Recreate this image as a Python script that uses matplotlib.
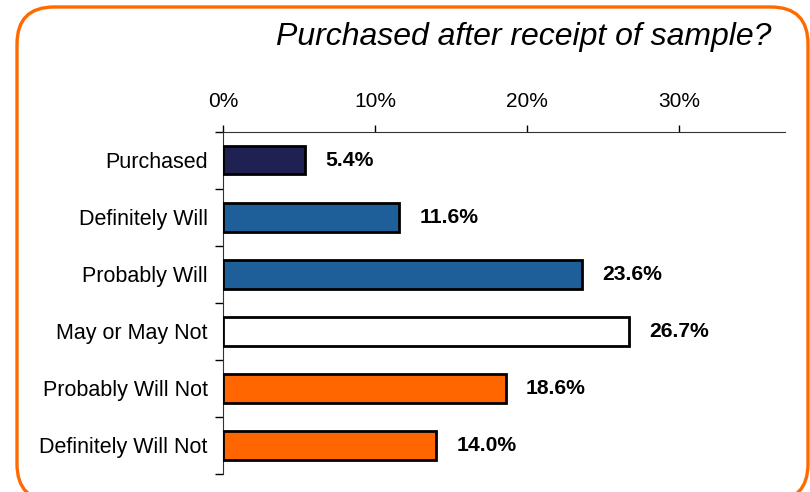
import matplotlib.pyplot as plt
from matplotlib.patches import FancyBboxPatch

plt.rcParams['font.family'] = ['Liberation Sans', 'DejaVu Sans']

categories = ["Purchased", "Definitely Will", "Probably Will",
              "May or May Not", "Probably Will Not", "Definitely Will Not"]
values = [5.4, 11.6, 23.6, 26.7, 18.6, 14.0]
bar_colors = ["#1F2152", "#1F5F99", "#1F5F99", "#FFFFFF", "#FF6600", "#FF6600"]
tick_vals = [0, 10, 20, 30]
tick_labels = ["0%", "10%", "20%", "30%"]
title = "Purchased after receipt of sample?"

fig = plt.figure(figsize=(8.1, 4.92), dpi=100)

# orange rounded frame, in inches; bottom edge runs off the figure
frame = FancyBboxPatch((0.17, -0.09), 7.91, 4.94,
                       boxstyle="round,pad=0,rounding_size=0.37",
                       transform=fig.dpi_scale_trans, facecolor="none",
                       edgecolor="#FF6A00", linewidth=2.4, zorder=-1)
fig.patches.append(frame)

ax = fig.add_axes([0.2753, 0.0366, 0.694, 0.6957])
ax.set_facecolor("none")

n = len(categories)
ypos = list(range(n))
ax.barh(ypos, values, height=0.5, color=bar_colors, edgecolor="black",
        linewidth=2.0, zorder=3)

for y, v in zip(ypos, values):
    ax.text(v + 1.35, y, f"{v:.1f}%", va="center", ha="left",
            fontsize=15.2, fontweight="bold")

ax.set_xlim(0, 37)
ax.set_ylim(n - 0.5, -0.5)

ax.xaxis.tick_top()
ax.set_xticks(tick_vals)
ax.set_xticklabels(tick_labels, fontsize=15)
ax.tick_params(axis="x", direction="out", length=5, width=1, pad=10)

ax.set_yticks([i - 0.5 for i in range(n + 1)])
ax.set_yticklabels([])
ax.set_yticks(ypos, minor=True)
ax.set_yticklabels(categories, minor=True, fontsize=15.5)
ax.tick_params(axis="y", which="major", direction="out", length=6, width=1)
ax.tick_params(axis="y", which="minor", length=0, pad=11)

for side in ["bottom", "right"]:
    ax.spines[side].set_visible(False)
ax.spines["top"].set_color("#333333")
ax.spines["left"].set_color("#333333")

fig.text(0.646, 0.925, title, fontsize=23, style="italic", ha="center", va="center")

fig.savefig("out.png", dpi=100)
